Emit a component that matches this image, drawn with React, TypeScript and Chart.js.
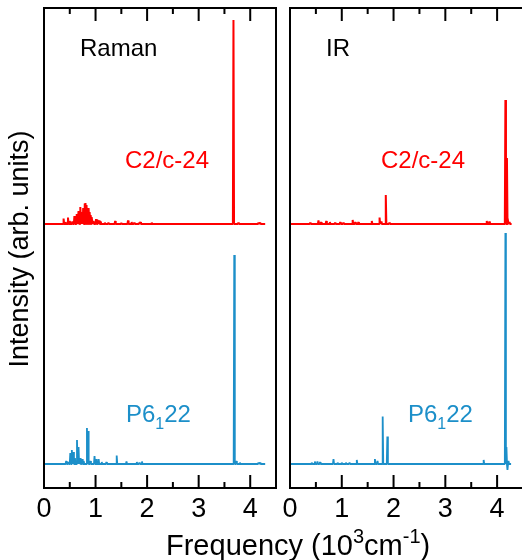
import React, { useEffect, useRef } from 'react';
import { Chart, registerables } from 'chart.js';

Chart.register(...registerables);

// ---- axes ----
const X_MIN = 0;
const X_MAX = 4.5;
const X_MAJOR = [0, 1, 2, 3, 4];
const X_MINOR = [0.5, 1.5, 2.5, 3.5];
const Y_MIN = 0;
const Y_MAX = 480;
const OFFSET_TOP = 264; // C2/c-24 trace offset (arb. units)
const OFFSET_BOTTOM = 24; // P6122 trace offset (arb. units)

// ---- Raman, C2/c-24 ----
const ramanC2Freq = [0.38, 0.42, 0.465, 0.5, 0.55, 0.59, 0.62, 0.64, 0.67, 0.69, 0.71, 0.74, 0.76, 0.79, 0.81, 0.83, 0.85, 0.87, 0.89, 0.91, 0.93, 0.96, 1.01, 1.04, 1.07, 1.1, 1.18, 1.25, 1.38, 1.5, 1.63, 1.7, 1.75, 1.84, 1.87, 2.09, 3.675, 3.77, 4.16, 4.19];
const ramanC2Int = [5.5, 2, 6.5, 3, 2.5, 8, 6, 10, 13, 9, 17, 12, 16, 20.5, 21, 19, 15, 16, 12, 9, 7, 3, 5, 4, 3.5, 2.5, 1.5, 1.5, 3, 1, 3.5, 2, 1.5, 1.5, 2, 1.5, 204, 1.5, 1.2, 1.3];
const ramanC2End = 4.29;

// ---- Raman, P6122 ----
const ramanP6Freq = [0.43, 0.47, 0.51, 0.54, 0.57, 0.6, 0.64, 0.67, 0.7, 0.74, 0.77, 0.833, 0.855, 0.9, 0.98, 1.02, 1.06, 1.12, 1.21, 1.41, 1.6, 1.8, 1.85, 1.9, 3.69, 3.73, 3.8, 4.16, 4.19];
const ramanP6Int = [3, 2, 11, 14, 12, 6, 24, 17, 6, 5, 3, 36, 33, 3, 8, 5, 5, 2, 2, 8.5, 2.5, 2, 1.5, 2.5, 209, 3, 1.5, 1.5, 1.5];
const ramanP6End = 4.29;

// ---- IR, C2/c-24 ----
const irC2Freq = [0.39, 0.55, 0.6, 0.7, 0.77, 0.87, 0.97, 1.03, 1.21, 1.26, 1.32, 1.58, 1.73, 1.76, 1.85, 1.92, 3.8, 3.85, 4.16, 4.19, 4.21, 4.24];
const irC2Int = [1.5, 3.5, 2, 3, 2, 1.5, 2, 1.5, 4, 2, 2, 3, 6.5, 2.5, 29, 1.5, 3, 2.5, 124, 66, 5, 2];
const irC2End = 4.28;

// ---- IR, P6122 ----
const irP6Freq = [0.42, 0.48, 0.53, 0.58, 0.84, 0.92, 1.0, 1.08, 1.15, 1.29, 1.64, 1.69, 1.79, 1.88, 3.74, 4.16, 4.18, 4.2, 4.22];
const irP6Int = [1.5, 2.5, 2.5, 2, 5, 1.5, 1.5, 1.5, 1.5, 4, 5, 3, 47.5, 27.5, 4, 231, 17, -6, 3];
const irP6End = 4.27;

const RED = '#ff0000';
const BLUE = '#1c8fc9';
const FONT = '"Liberation Sans", Arial, Helvetica, sans-serif';
const LABEL_SIZE = 24;

function spectrum(freqs: number[], ints: number[], offset: number, end: number) {
  const hw = 0.011;
  const pts: { x: number; y: number }[] = [{ x: X_MIN, y: offset }];
  freqs.forEach((f, i) => {
    pts.push({ x: f - hw, y: offset });
    pts.push({ x: f, y: offset + ints[i] });
    pts.push({ x: f + hw, y: offset });
  });
  pts.push({ x: end, y: offset });
  return pts;
}

type Part = { t: string; sub?: boolean; sup?: boolean };
type Label = { parts: Part[]; x: number; y: number; color: string };

function drawParts(ctx: CanvasRenderingContext2D, parts: Part[], x: number, y: number, size: number) {
  let cx = x;
  ctx.textAlign = 'left';
  ctx.textBaseline = 'alphabetic';
  for (const p of parts) {
    if (p.sub) {
      ctx.font = `${Math.round(size * 0.68)}px ${FONT}`;
      ctx.fillText(p.t, cx, y + size * 0.3);
    } else if (p.sup) {
      ctx.font = `${Math.round(size * 0.68)}px ${FONT}`;
      ctx.fillText(p.t, cx, y - size * 0.42);
    } else {
      ctx.font = `${size}px ${FONT}`;
      ctx.fillText(p.t, cx, y);
    }
    cx += ctx.measureText(p.t).width;
  }
}

function makePlugin(originX: number, labels: Label[], isLeft: boolean) {
  return {
    id: 'panelFrame',
    afterDatasetsDraw(chart: any) {
      const ctx: CanvasRenderingContext2D = chart.ctx;
      const { left, right, top, bottom } = chart.chartArea;
      const xs = chart.scales.x;
      ctx.save();
      ctx.strokeStyle = '#000';
      ctx.lineWidth = 2;
      ctx.strokeRect(left, top, right - left, bottom - top);
      const tick = (v: number, len: number) => {
        const px = xs.getPixelForValue(v);
        ctx.beginPath();
        ctx.moveTo(px, top);
        ctx.lineTo(px, top + len);
        ctx.moveTo(px, bottom);
        ctx.lineTo(px, bottom - len);
        ctx.stroke();
      };
      X_MAJOR.forEach((v) => tick(v, 13));
      X_MINOR.forEach((v) => tick(v, 6));
      ctx.fillStyle = '#000';
      ctx.font = `27px ${FONT}`;
      ctx.textAlign = 'center';
      ctx.textBaseline = 'alphabetic';
      X_MAJOR.forEach((v) => ctx.fillText(String(v), xs.getPixelForValue(v), 517));
      for (const l of labels) {
        ctx.fillStyle = l.color;
        drawParts(ctx, l.parts, l.x - originX, l.y, LABEL_SIZE);
      }
      if (isLeft) {
        ctx.fillStyle = '#000';
        ctx.save();
        ctx.translate(21, 249);
        ctx.rotate(-Math.PI / 2);
        ctx.font = `27px ${FONT}`;
        ctx.textAlign = 'center';
        ctx.textBaseline = 'middle';
        ctx.fillText('Intensity (arb. units)', 0, 0);
        ctx.restore();
        drawParts(
          ctx,
          [{ t: 'Frequency (10' }, { t: '3', sup: true }, { t: 'cm' }, { t: '-1', sup: true }, { t: ')' }],
          166,
          555,
          29
        );
      }
      ctx.restore();
    },
  };
}

function Panel(props: {
  left: number;
  width: number;
  padding: { left: number; right: number; top: number; bottom: number };
  top: { x: number; y: number }[];
  bottom: { x: number; y: number }[];
  labels: Label[];
  isLeft: boolean;
}) {
  const ref = useRef<HTMLCanvasElement>(null);
  useEffect(() => {
    if (!ref.current) return;
    const chart = new Chart(ref.current, {
      type: 'line',
      data: {
        datasets: [
          { data: props.top, borderColor: RED, borderWidth: 2, pointRadius: 0, tension: 0, fill: false, borderJoinStyle: 'bevel' },
          { data: props.bottom, borderColor: BLUE, borderWidth: 1.8, pointRadius: 0, tension: 0, fill: false, borderJoinStyle: 'bevel' },
        ],
      } as any,
      options: {
        responsive: false,
        animation: false,
        layout: { padding: props.padding },
        plugins: { legend: { display: false }, tooltip: { enabled: false } },
        scales: {
          x: { type: 'linear', min: X_MIN, max: X_MAX, display: false },
          y: { type: 'linear', min: Y_MIN, max: Y_MAX, display: false },
        },
      } as any,
      plugins: [makePlugin(props.left, props.labels, props.isLeft)],
    });
    return () => chart.destroy();
  }, []);
  return (
    <canvas
      ref={ref}
      width={props.width}
      height={560}
      style={{ position: 'absolute', left: props.left, top: 0, width: props.width, height: 560 }}
    />
  );
}

export default function App() {
  const P6: Part[] = [{ t: 'P6' }, { t: '1', sub: true }, { t: '22' }];
  return (
    <div style={{ position: 'absolute', left: 0, top: 0, width: 522, height: 560, overflow: 'hidden', background: '#fff' }}>
      <Panel
        left={0}
        width={522}
        padding={{ left: 44, right: 246, top: 8, bottom: 72 }}
        top={spectrum(ramanC2Freq, ramanC2Int, OFFSET_TOP, ramanC2End)}
        bottom={spectrum(ramanP6Freq, ramanP6Int, OFFSET_BOTTOM, ramanP6End)}
        labels={[
          { parts: [{ t: 'Raman' }], x: 80, y: 56, color: '#000' },
          { parts: [{ t: 'C2/c-24' }], x: 125, y: 168, color: RED },
          { parts: P6, x: 126, y: 422, color: BLUE },
        ]}
        isLeft={true}
      />
      <Panel
        left={283}
        width={250}
        padding={{ left: 7, right: 10, top: 8, bottom: 72 }}
        top={spectrum(irC2Freq, irC2Int, OFFSET_TOP, irC2End)}
        bottom={spectrum(irP6Freq, irP6Int, OFFSET_BOTTOM, irP6End)}
        labels={[
          { parts: [{ t: 'IR' }], x: 326, y: 56, color: '#000' },
          { parts: [{ t: 'C2/c-24' }], x: 381, y: 168, color: RED },
          { parts: P6, x: 408, y: 422, color: BLUE },
        ]}
        isLeft={false}
      />
    </div>
  );
}
